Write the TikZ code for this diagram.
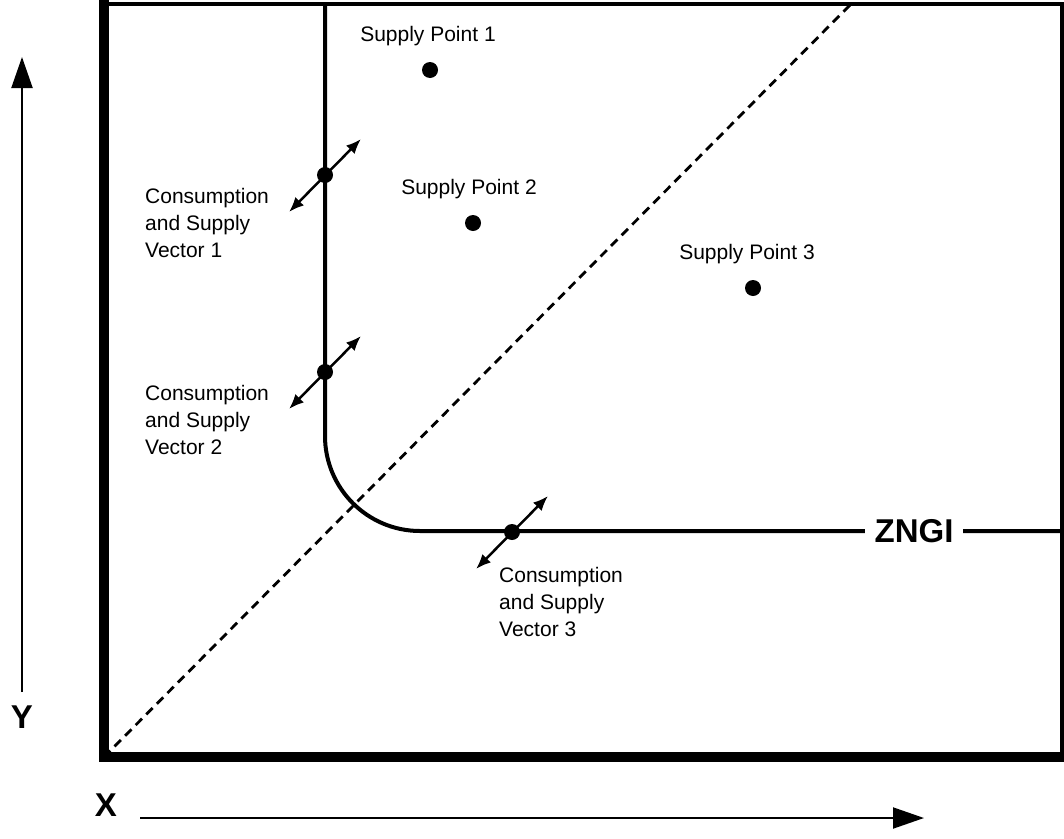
\documentclass[tikz,border=0pt]{standalone}
\usepackage{fontspec}
\setmainfont{Liberation Sans}
\usetikzlibrary{arrows.meta}

\begin{document}
\begin{tikzpicture}[x=1pt, y=-1pt,
	dot/.style={shape=circle, fill, inner sep=0pt, minimum size=16pt},
	lab/.style={font=\fontsize{21}{27}\selectfont, inner sep=0pt},
	veclab/.style={lab, anchor=north west, align=left},
	vec/.style={line width=2.5pt, {Latex[length=15pt,width=12pt]}-{Latex[length=15pt,width=12pt]}},
	axis/.style={line width=2pt, -{Triangle[length=31pt,width=21pt]}},
	big/.style={font=\fontsize{33}{33}\selectfont\bfseries, inner sep=0pt}]
	% Frame and bounding box:
	\useasboundingbox (0, 0) rectangle (1064, 838);
	\draw[line width=4pt] (100, 4) -- (1062, 4) -- (1062, 757);
	\draw[line width=10pt] (104, 0) -- (104, 757) -- (1064, 757);
	% Diagonal and ZNGI curve:
	\coordinate (origin) at (104, 757);
	\coordinate (diagend) at (851, 4);
	\draw[line width=2.8pt, dash pattern=on 9pt off 6pt] (origin) -- (diagend);
	\coordinate (ztop) at (325, 6);
	\coordinate (zright) at (1062, 531);
	\draw[line width=4pt, rounded corners=95pt] (ztop) -- (325, 531) -- (zright);
	\node[big, fill=white, inner xsep=10pt, inner ysep=4pt] (zngi) at (914, 531) {ZNGI};
	% Supply points:
	\node[dot] (sp1) at (430, 70) {};
	\node[lab] (sp1lab) at (428, 36) {Supply Point 1};
	\node[dot] (sp2) at (473, 223) {};
	\node[lab] (sp2lab) at (469, 189) {Supply Point 2};
	\node[dot] (sp3) at (753, 288) {};
	\node[lab] (sp3lab) at (747, 254) {Supply Point 3};
	% Consumption and supply vectors:
	\node[dot] (cv1) at (325, 175) {};
	\coordinate (cv1a) at (289, 212);
	\coordinate (cv1b) at (361, 139);
	\draw[vec] (cv1a) -- (cv1b);
	\node[veclab] (cv1lab) at (145, 188) {Consumption\\and Supply\\Vector 1};
	\node[dot] (cv2) at (325, 372) {};
	\coordinate (cv2a) at (289, 409);
	\coordinate (cv2b) at (361, 336);
	\draw[vec] (cv2a) -- (cv2b);
	\node[veclab] (cv2lab) at (145, 385) {Consumption\\and Supply\\Vector 2};
	\node[dot] (cv3) at (512, 532) {};
	\coordinate (cv3a) at (476, 569);
	\coordinate (cv3b) at (548, 496);
	\draw[vec] (cv3a) -- (cv3b);
	\node[veclab] (cv3lab) at (499, 567) {Consumption\\and Supply\\Vector 3};
	% Axes:
	\node[big] (ylab) at (22, 717) {Y};
	\coordinate (ytip) at (22, 57);
	\draw[axis] (22, 692) -- (ytip);
	\node[big] (xlab) at (106, 805) {X};
	\coordinate (xtip) at (924, 818);
	\draw[axis] (140, 818) -- (xtip);
\end{tikzpicture}
\end{document}
